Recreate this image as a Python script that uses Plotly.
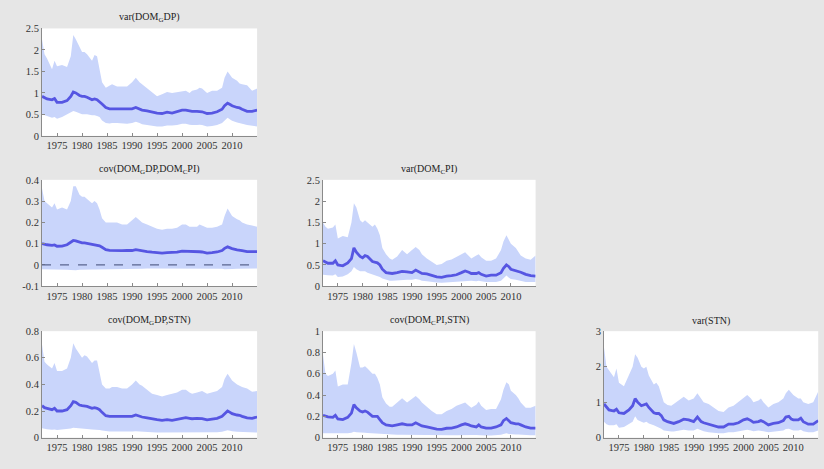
import plotly.graph_objects as go

# shared time grid (years)
years = [1972, 1972.5, 1973, 1974, 1974.5, 1975, 1976, 1977, 1977.75, 1978.25,
         1978.75, 1979.5, 1980, 1980.5, 1981, 1982, 1982.5, 1983, 1983.5, 1984,
         1984.75, 1985.5, 1986, 1987, 1988, 1989, 1990, 1990.75, 1991.5, 1992,
         1993, 1994, 1995, 1996, 1997, 1998, 1999, 2000, 2000.75, 2001.5,
         2002, 2003, 2003.5, 2004, 2005, 2006, 2007, 2008, 2008.5, 2009.1,
         2009.6, 2010, 2011, 2011.5, 2012, 2013, 2014, 2015]

# 1: var(DOM_G DP)
var_gdp_med = [0.92, 0.88, 0.86, 0.84, 0.87, 0.78, 0.78, 0.82, 0.92, 1.02,
               1.00, 0.94, 0.92, 0.92, 0.90, 0.84, 0.86, 0.84, 0.80, 0.74,
               0.66, 0.63, 0.63, 0.63, 0.62, 0.63, 0.63, 0.66, 0.63, 0.60,
               0.58, 0.55, 0.53, 0.52, 0.55, 0.53, 0.56, 0.60, 0.60, 0.58,
               0.57, 0.57, 0.57, 0.56, 0.52, 0.53, 0.56, 0.62, 0.70, 0.76,
               0.73, 0.70, 0.66, 0.65, 0.62, 0.57, 0.57, 0.60]
var_gdp_hi = [2.25, 1.90, 1.80, 1.55, 1.75, 1.62, 1.65, 1.60, 1.85, 2.35,
              2.25, 2.05, 1.95, 1.95, 1.90, 1.75, 1.88, 1.85, 1.50, 1.25,
              1.12, 1.18, 1.20, 1.15, 1.15, 1.15, 1.25, 1.35, 1.25, 1.20,
              1.10, 1.00, 0.92, 0.97, 1.02, 1.00, 1.02, 1.05, 1.05, 1.00,
              1.05, 1.08, 1.12, 1.10, 1.00, 1.05, 1.05, 1.12, 1.35, 1.50,
              1.40, 1.35, 1.28, 1.22, 1.20, 1.18, 1.05, 1.10]
var_gdp_lo = [0.50, 0.48, 0.47, 0.42, 0.44, 0.40, 0.44, 0.50, 0.55, 0.58,
              0.56, 0.52, 0.50, 0.50, 0.50, 0.48, 0.48, 0.46, 0.44, 0.36,
              0.30, 0.29, 0.30, 0.30, 0.29, 0.28, 0.30, 0.33, 0.30, 0.27,
              0.25, 0.23, 0.22, 0.22, 0.24, 0.24, 0.25, 0.28, 0.28, 0.26,
              0.25, 0.25, 0.26, 0.25, 0.22, 0.23, 0.25, 0.30, 0.36, 0.42,
              0.38, 0.35, 0.31, 0.30, 0.28, 0.25, 0.23, 0.22]

# 2: cov(DOM_G DP, DOM_C PI)
cov_gc_med = [0.100, 0.097, 0.095, 0.092, 0.094, 0.088, 0.089, 0.095, 0.105, 0.115,
              0.113, 0.106, 0.104, 0.104, 0.102, 0.095, 0.096, 0.094, 0.090, 0.083,
              0.072, 0.069, 0.068, 0.068, 0.067, 0.068, 0.068, 0.072, 0.068, 0.066,
              0.063, 0.060, 0.057, 0.056, 0.058, 0.058, 0.060, 0.065, 0.065, 0.063,
              0.062, 0.062, 0.062, 0.061, 0.056, 0.058, 0.061, 0.068, 0.078, 0.085,
              0.080, 0.077, 0.071, 0.070, 0.067, 0.063, 0.062, 0.063]
cov_gc_hi = [0.36, 0.30, 0.29, 0.27, 0.29, 0.26, 0.27, 0.26, 0.30, 0.37,
             0.37, 0.33, 0.32, 0.32, 0.31, 0.29, 0.30, 0.29, 0.26, 0.22,
             0.20, 0.20, 0.20, 0.20, 0.19, 0.19, 0.21, 0.225, 0.21, 0.20,
             0.19, 0.18, 0.17, 0.165, 0.17, 0.17, 0.175, 0.19, 0.19, 0.18,
             0.18, 0.18, 0.19, 0.185, 0.175, 0.175, 0.18, 0.19, 0.23, 0.265,
             0.245, 0.23, 0.215, 0.21, 0.20, 0.19, 0.185, 0.18]
cov_gc_lo = [-0.020, -0.020, -0.020, -0.021, -0.021, -0.021, -0.022, -0.022, -0.024, -0.026,
             -0.025, -0.023, -0.022, -0.022, -0.021, -0.021, -0.021, -0.021, -0.020, -0.019,
             -0.018, -0.018, -0.018, -0.018, -0.018, -0.018, -0.018, -0.019, -0.018, -0.018,
             -0.017, -0.017, -0.016, -0.016, -0.016, -0.016, -0.016, -0.017, -0.017, -0.017,
             -0.017, -0.017, -0.017, -0.017, -0.016, -0.016, -0.017, -0.018, -0.020, -0.021,
             -0.020, -0.019, -0.018, -0.018, -0.018, -0.017, -0.017, -0.017]

# 3: var(DOM_C PI)
var_cpi_med = [0.60, 0.56, 0.54, 0.54, 0.60, 0.50, 0.48, 0.55, 0.65, 0.90,
               0.80, 0.70, 0.67, 0.72, 0.70, 0.58, 0.57, 0.55, 0.50, 0.40,
               0.32, 0.30, 0.30, 0.32, 0.35, 0.34, 0.32, 0.38, 0.33, 0.30,
               0.29, 0.26, 0.22, 0.21, 0.24, 0.25, 0.27, 0.32, 0.36, 0.33,
               0.30, 0.30, 0.32, 0.28, 0.24, 0.26, 0.26, 0.32, 0.42, 0.50,
               0.46, 0.40, 0.37, 0.36, 0.33, 0.28, 0.25, 0.24]
var_cpi_hi = [1.50, 1.40, 1.35, 1.38, 1.45, 1.12, 1.18, 1.15, 1.50, 1.95,
              1.85, 1.55, 1.50, 1.55, 1.50, 1.40, 1.45, 1.35, 1.20, 0.90,
              0.75, 0.65, 0.62, 0.70, 0.85, 0.75, 0.85, 0.92, 0.85, 0.75,
              0.65, 0.58, 0.50, 0.52, 0.60, 0.63, 0.70, 0.75, 0.80, 0.70,
              0.65, 0.72, 0.75, 0.68, 0.60, 0.60, 0.65, 0.85, 1.05, 1.20,
              1.10, 1.00, 0.90, 0.80, 0.72, 0.65, 0.62, 0.72]
var_cpi_lo = [0.27, 0.27, 0.26, 0.25, 0.28, 0.22, 0.23, 0.28, 0.35, 0.45,
              0.40, 0.35, 0.35, 0.35, 0.32, 0.28, 0.27, 0.25, 0.22, 0.18,
              0.15, 0.13, 0.13, 0.14, 0.15, 0.15, 0.15, 0.17, 0.15, 0.13,
              0.12, 0.10, 0.09, 0.08, 0.09, 0.10, 0.10, 0.11, 0.13, 0.14,
              0.13, 0.12, 0.13, 0.12, 0.10, 0.10, 0.10, 0.13, 0.18, 0.25,
              0.20, 0.17, 0.15, 0.14, 0.13, 0.10, 0.10, 0.10]

# 4: cov(DOM_G DP, STN)
cov_gs_med = [0.24, 0.225, 0.22, 0.21, 0.22, 0.20, 0.20, 0.21, 0.24, 0.27,
              0.265, 0.245, 0.24, 0.24, 0.235, 0.22, 0.225, 0.22, 0.21, 0.19,
              0.165, 0.16, 0.16, 0.16, 0.16, 0.16, 0.16, 0.17, 0.16, 0.155,
              0.148, 0.14, 0.135, 0.13, 0.135, 0.13, 0.138, 0.148, 0.15, 0.145,
              0.142, 0.145, 0.145, 0.143, 0.133, 0.138, 0.145, 0.16, 0.18, 0.20,
              0.19, 0.18, 0.17, 0.168, 0.16, 0.148, 0.145, 0.155]
cov_gs_hi = [0.70, 0.57, 0.55, 0.52, 0.56, 0.50, 0.50, 0.52, 0.60, 0.71,
             0.67, 0.63, 0.60, 0.62, 0.61, 0.56, 0.58, 0.58, 0.48, 0.40,
             0.37, 0.37, 0.38, 0.38, 0.37, 0.37, 0.40, 0.43, 0.40, 0.39,
             0.36, 0.33, 0.32, 0.31, 0.32, 0.33, 0.34, 0.36, 0.36, 0.34,
             0.33, 0.34, 0.345, 0.35, 0.33, 0.34, 0.35, 0.38, 0.44, 0.48,
             0.45, 0.43, 0.40, 0.39, 0.38, 0.37, 0.345, 0.35]
cov_gs_lo = [0.070, 0.065, 0.063, 0.060, 0.062, 0.058, 0.060, 0.063, 0.068, 0.075,
             0.072, 0.068, 0.066, 0.066, 0.064, 0.062, 0.062, 0.060, 0.058, 0.053,
             0.048, 0.046, 0.046, 0.045, 0.045, 0.045, 0.046, 0.048, 0.045, 0.043,
             0.042, 0.040, 0.038, 0.038, 0.038, 0.038, 0.039, 0.041, 0.042, 0.040,
             0.040, 0.040, 0.040, 0.040, 0.038, 0.038, 0.040, 0.044, 0.050, 0.055,
             0.052, 0.048, 0.045, 0.044, 0.042, 0.040, 0.038, 0.038]

# 5: cov(DOM_C PI, STN)
cov_cs_med = [0.21, 0.20, 0.195, 0.19, 0.21, 0.175, 0.17, 0.19, 0.23, 0.31,
              0.28, 0.25, 0.24, 0.25, 0.24, 0.20, 0.20, 0.20, 0.17, 0.14,
              0.12, 0.11, 0.11, 0.12, 0.13, 0.12, 0.12, 0.14, 0.12, 0.11,
              0.10, 0.09, 0.08, 0.078, 0.088, 0.09, 0.10, 0.12, 0.13, 0.12,
              0.11, 0.10, 0.12, 0.10, 0.09, 0.09, 0.10, 0.12, 0.16, 0.18,
              0.16, 0.14, 0.13, 0.13, 0.12, 0.10, 0.09, 0.09]
cov_cs_hi = [0.78, 0.60, 0.58, 0.60, 0.63, 0.48, 0.50, 0.50, 0.70, 0.88,
             0.80, 0.66, 0.66, 0.67, 0.65, 0.60, 0.60, 0.56, 0.50, 0.38,
             0.32, 0.29, 0.29, 0.33, 0.37, 0.33, 0.36, 0.39, 0.36, 0.33,
             0.29, 0.25, 0.22, 0.22, 0.25, 0.27, 0.30, 0.32, 0.33, 0.30,
             0.28, 0.31, 0.34, 0.30, 0.26, 0.27, 0.27, 0.36, 0.45, 0.52,
             0.50, 0.44, 0.40, 0.37, 0.33, 0.28, 0.28, 0.30]
cov_cs_lo = [0.040, 0.040, 0.040, 0.038, 0.040, 0.035, 0.036, 0.040, 0.045, 0.055,
             0.050, 0.045, 0.044, 0.045, 0.043, 0.040, 0.040, 0.038, 0.035, 0.030,
             0.028, 0.026, 0.026, 0.027, 0.028, 0.027, 0.027, 0.030, 0.027, 0.025,
             0.024, 0.022, 0.020, 0.020, 0.021, 0.022, 0.023, 0.025, 0.027, 0.025,
             0.024, 0.024, 0.025, 0.023, 0.021, 0.021, 0.022, 0.026, 0.033, 0.040,
             0.035, 0.032, 0.030, 0.029, 0.027, 0.024, 0.022, 0.022]

# 6: var(STN)
var_stn_med = [0.95, 0.85, 0.78, 0.75, 0.80, 0.70, 0.68, 0.78, 0.90, 1.10,
               1.00, 0.90, 0.92, 0.95, 0.85, 0.70, 0.68, 0.68, 0.62, 0.50,
               0.45, 0.42, 0.40, 0.45, 0.52, 0.50, 0.45, 0.58, 0.45, 0.42,
               0.38, 0.33, 0.30, 0.30, 0.38, 0.38, 0.42, 0.50, 0.53, 0.48,
               0.43, 0.45, 0.48, 0.45, 0.36, 0.40, 0.42, 0.48, 0.58, 0.60,
               0.52, 0.50, 0.50, 0.55, 0.45, 0.38, 0.38, 0.48]
var_stn_hi = [2.55, 2.00, 1.90, 1.70, 1.95, 1.55, 1.45, 1.75, 2.00, 2.35,
              2.25, 2.00, 1.95, 2.00, 1.75, 1.50, 1.55, 1.45, 1.25, 1.00,
              0.92, 0.90, 0.95, 1.05, 1.15, 1.05, 1.10, 1.25, 1.10, 1.00,
              0.95, 0.85, 0.75, 0.72, 0.85, 0.90, 1.00, 1.10, 1.20, 1.10,
              1.00, 1.05, 1.10, 1.00, 0.85, 0.95, 1.00, 1.10, 1.25, 1.35,
              1.25, 1.20, 1.10, 1.10, 1.00, 0.95, 1.00, 1.30]
var_stn_lo = [0.45, 0.38, 0.35, 0.35, 0.38, 0.28, 0.30, 0.38, 0.45, 0.60,
              0.50, 0.45, 0.42, 0.45, 0.40, 0.35, 0.32, 0.30, 0.25, 0.20,
              0.18, 0.17, 0.17, 0.20, 0.22, 0.20, 0.20, 0.25, 0.20, 0.18,
              0.15, 0.13, 0.12, 0.12, 0.15, 0.15, 0.17, 0.20, 0.22, 0.20,
              0.18, 0.20, 0.20, 0.18, 0.15, 0.16, 0.17, 0.20, 0.24, 0.25,
              0.22, 0.20, 0.20, 0.22, 0.18, 0.15, 0.15, 0.20]

titles = ["var(DOM<sub>G</sub>DP)",
          "cov(DOM<sub>G</sub>DP,DOM<sub>C</sub>PI)",
          "var(DOM<sub>C</sub>PI)",
          "cov(DOM<sub>G</sub>DP,STN)",
          "cov(DOM<sub>C</sub>PI,STN)",
          "var(STN)"]

x_ticks = [1975, 1980, 1985, 1990, 1995, 2000, 2005, 2010]
y_ticks = [
    [0, 0.5, 1, 1.5, 2, 2.5],
    [-0.1, 0, 0.1, 0.2, 0.3, 0.4],
    [0, 0.5, 1, 1.5, 2, 2.5],
    [0, 0.2, 0.4, 0.6, 0.8],
    [0, 0.2, 0.4, 0.6, 0.8, 1],
    [0, 1, 2, 3],
]
y_tick_text = [
    ["0", "0.5", "1", "1.5", "2", "2.5"],
    ["-0.1", "0", "0.1", "0.2", "0.3", "0.4"],
    ["0", "0.5", "1", "1.5", "2", "2.5"],
    ["0", "0.2", "0.4", "0.6", "0.8"],
    ["0", "0.2", "0.4", "0.6", "0.8", "1"],
    ["0", "1", "2", "3"],
]
y_ranges = [[0, 2.5], [-0.1, 0.4], [0, 2.5], [0, 0.8], [0, 1], [0, 3]]

series = [
    (var_gdp_lo, var_gdp_med, var_gdp_hi),
    (cov_gc_lo, cov_gc_med, cov_gc_hi),
    (var_cpi_lo, var_cpi_med, var_cpi_hi),
    (cov_gs_lo, cov_gs_med, cov_gs_hi),
    (cov_cs_lo, cov_cs_med, cov_cs_hi),
    (var_stn_lo, var_stn_med, var_stn_hi),
]

# layout positions (row, col) of each panel
panel_pos = [(0, 0), (1, 0), (1, 1), (2, 0), (2, 1), (2, 2)]
col_domains = [[0.051, 0.312], [0.392, 0.650], [0.733, 0.993]]
row_domains = [[0.7143, 0.9488], [0.3859, 0.6183], [0.0554, 0.2878]]

FILL = "#c9d5fb"
LINE = "#5656e2"
FONT = "Liberation Serif"

fig = go.Figure()
layout_axes = {}
annotations = []
shapes = []
for i, ((lo, med, hi), (r, c)) in enumerate(zip(series, panel_pos)):
    n = i + 1
    xa = "x" if n == 1 else f"x{n}"
    ya = "y" if n == 1 else f"y{n}"
    fig.add_trace(go.Scatter(x=years, y=lo, xaxis=xa, yaxis=ya, mode="lines",
                             line=dict(width=0, color=FILL), showlegend=False,
                             hoverinfo="skip"))
    fig.add_trace(go.Scatter(x=years, y=hi, xaxis=xa, yaxis=ya, mode="lines",
                             line=dict(width=0, color=FILL), fill="tonexty",
                             fillcolor=FILL, showlegend=False, hoverinfo="skip"))
    fig.add_trace(go.Scatter(x=years, y=med, xaxis=xa, yaxis=ya, mode="lines",
                             line=dict(width=2.8, color=LINE), showlegend=False))
    axis_common = dict(showline=True, linecolor="#8a8a8a", linewidth=1,
                       ticks="inside", ticklen=3, tickcolor="#8a8a8a",
                       showgrid=False, zeroline=False, mirror=False,
                       tickfont=dict(family=FONT, size=10.5, color="#333333"))
    layout_axes["xaxis" if n == 1 else f"xaxis{n}"] = dict(
        domain=col_domains[c], anchor=ya, range=[years[0], years[-1]],
        tickvals=x_ticks, **axis_common)
    layout_axes["yaxis" if n == 1 else f"yaxis{n}"] = dict(
        domain=row_domains[r], anchor=xa, range=y_ranges[i],
        tickvals=y_ticks[i], ticktext=y_tick_text[i], **axis_common)
    annotations.append(dict(text=titles[i], xref=f"{xa} domain", yref=f"{ya} domain",
                            x=0.5, y=1.0, yanchor="bottom", xanchor="center",
                            yshift=2, showarrow=False,
                            font=dict(family=FONT, size=10, color="#222222")))

# dashed zero line in the cov(DOM_G DP, DOM_C PI) panel
shapes.append(dict(type="line", xref="x2 domain", yref="y2", x0=0, x1=1, y0=0, y1=0,
                   line=dict(color="#5a6590", width=1.2, dash="dash")))

fig.update_layout(width=824, height=469, margin=dict(l=0, r=0, t=0, b=0),
                  paper_bgcolor="#e6e6e6", plot_bgcolor="#ffffff",
                  annotations=annotations, shapes=shapes, showlegend=False,
                  **layout_axes)

fig.write_html("out.html", config={"displayModeBar": False},
               post_script="document.body.style.margin='0';document.body.style.background='#e6e6e6';")
